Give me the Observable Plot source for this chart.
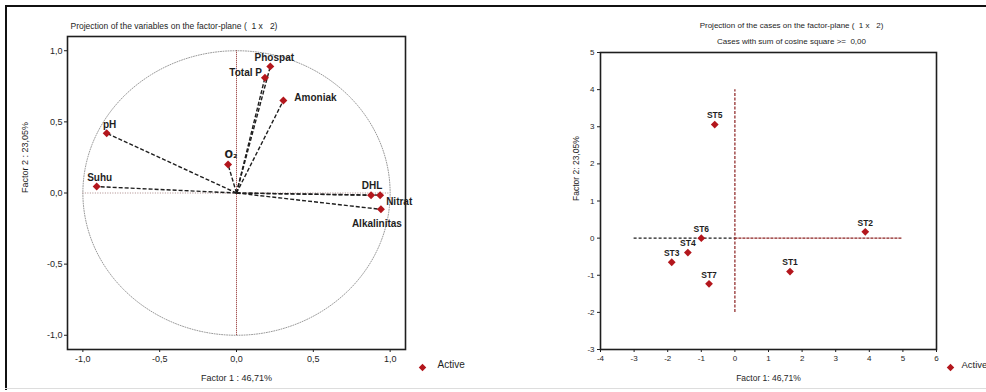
<!DOCTYPE html>
<html><head><meta charset="utf-8">
<script src="https://cdn.jsdelivr.net/npm/d3@7"></script>
<script src="https://cdn.jsdelivr.net/npm/@observablehq/plot@0.6"></script>
<style>
body{margin:0;background:#fff;}
#wrap{position:relative;width:986px;height:392px;overflow:hidden;background:#fff;font-family:"Liberation Sans",Arial,sans-serif;}
.panel{position:absolute;top:0;}
.bt{position:absolute;background:#111;}
</style></head><body>
<div id="wrap">
 <div id="left" class="panel" style="left:0"></div>
 <div id="right" class="panel" style="left:493px"></div>
 <div class="bt" style="left:5px;top:5px;width:981px;height:2px"></div>
 <div class="bt" style="left:5px;top:5px;width:2px;height:385px"></div>
 <div style="position:absolute;left:5px;top:388px;width:981px;height:1px;background:#ddd"></div>
</div>
<script>
// ---- data ----
const variableNames = ["Phospat","Total P","Amoniak","pH","O₂","Suhu","DHL","Nitrat","Alkalinitas"];
const factor1Loadings = [0.22, 0.185, 0.305, -0.845, -0.055, -0.91, 0.876, 0.935, 0.94];
const factor2Loadings = [0.89, 0.81, 0.65, 0.42, 0.20, 0.045, -0.016, -0.015, -0.115];
const caseNames = ["ST1","ST2","ST3","ST4","ST5","ST6","ST7"];
const factor1Scores = [1.64, 3.88, -1.88, -1.40, -0.60, -1.00, -0.77];
const factor2Scores = [-0.90, 0.17, -0.65, -0.39, 3.06, 0.00, -1.23];
const loadingTicks = [-1, -0.5, 0, 0.5, 1];
const scoreXTicks = [-4, -3, -2, -1, 0, 1, 2, 3, 4, 5, 6];
const scoreYTicks = [-3, -2, -1, 0, 1, 2, 3, 4, 5];
const legendLabels = ["Active"];
const leftTitle = "Projection of the variables on the factor-plane (  1 x   2)";
const rightTitle = "Projection of the cases on the factor-plane (  1 x   2)";
const rightSubtitle = "Cases with sum of cosine square >=  0,00";
const leftXLabel = "Factor 1 : 46,71%", leftYLabel = "Factor 2 : 23,05%";
const rightXLabel = "Factor 1: 46,71%", rightYLabel = "Factor 2: 23,05%";

const loadings = variableNames.map((name, i) => ({name, x: factor1Loadings[i], y: factor2Loadings[i]}));
const scores = caseNames.map((name, i) => ({name, x: factor1Scores[i], y: factor2Scores[i]}));

// ---- styles / placement ----
const RED = "#b3161c", INK = "#1e1e1e";
const FONT = "'Liberation Sans', Arial, sans-serif";
const varLabelPlace = {
  "Phospat": {dx: 4, dy: -9, anchor: "middle"},
  "Total P": {dx: -3, dy: -5, anchor: "end"},
  "Amoniak": {dx: 11, dy: -3, anchor: "start"},
  "pH": {dx: 3, dy: -8, anchor: "middle"},
  "O₂": {dx: 3, dy: -10, anchor: "middle", font: "'DejaVu Sans', sans-serif"},
  "Suhu": {dx: 3, dy: -9, anchor: "middle"},
  "DHL": {dx: 1, dy: -9, anchor: "middle"},
  "Nitrat": {dx: 6, dy: 7, anchor: "start"},
  "Alkalinitas": {dx: -4, dy: 14, anchor: "middle"}
};
const commaFmt = d => d.toFixed(1).replace(".", ",");
const unitCircle = d3.range(0, 361, 2).map(a => ({x: Math.cos(a * Math.PI / 180), y: Math.sin(a * Math.PI / 180)}));

const left = Plot.plot({
  width: 493, height: 392,
  marginLeft: 67, marginRight: 88, marginTop: 36, marginBottom: 43,
  x: {domain: [-1.1, 1.1]},
  y: {domain: [-1.1, 1.1]},
  style: {fontFamily: FONT, fontSize: "9px", color: INK, background: "transparent"},
  marks: [
    Plot.line(unitCircle, {x: "x", y: "y", stroke: "#9a9a9a", strokeWidth: 1, strokeDasharray: "1,1.5"}),
    Plot.ruleY([0], {x1: -1, x2: 1, stroke: "#a88", strokeWidth: 1, strokeDasharray: "1,1.5"}),
    Plot.ruleX([0], {y1: -1, y2: 1, stroke: "#8b2020", strokeWidth: 1, strokeDasharray: "1,1"}),
    Plot.link(loadings, {x1: d => 0, y1: d => 0, x2: "x", y2: "y", stroke: INK, strokeWidth: 1.4, strokeDasharray: "4,2"}),
    Plot.dot(loadings, {x: "x", y: "y", symbol: "diamond2", r: 3.6, fill: RED}),
    ...loadings.map(d => {
      const p = varLabelPlace[d.name];
      return Plot.text([d], {x: "x", y: "y", text: "name", dx: p.dx, dy: p.dy, textAnchor: p.anchor,
        fontWeight: "bold", fontSize: 10, fill: INK, fontFamily: p.font || FONT});
    }),
    Plot.frame({stroke: INK, strokeWidth: 1.6}),
    Plot.axisX(loadingTicks, {tickFormat: commaFmt, tickSize: 3, tickPadding: 3, label: null, fontSize: 9}),
    Plot.axisY(loadingTicks, {tickFormat: commaFmt, tickSize: 3, tickPadding: 2, label: null, fontSize: 9}),
    Plot.text([leftTitle], {frameAnchor: "top-left", dx: 3, dy: -14, textAnchor: "start", fontSize: 8.5, fill: INK}),
    Plot.text([leftXLabel], {frameAnchor: "bottom", dy: 31, fontSize: 9, fill: INK}),
    Plot.text([leftYLabel], {frameAnchor: "left", dx: -42, rotate: -90, fontSize: 9, fill: INK}),
    Plot.dot(legendLabels, {frameAnchor: "bottom-right", dx: 17, dy: 18, symbol: "diamond2", r: 3.4, fill: RED}),
    Plot.text(legendLabels, {frameAnchor: "bottom-right", dx: 32, dy: 18, textAnchor: "start", fontSize: 10, fill: INK})
  ]
});
document.getElementById("left").append(left);

const right = Plot.plot({
  width: 493, height: 392,
  marginLeft: 107, marginRight: 50, marginTop: 52, marginBottom: 43,
  x: {domain: [-4, 6]},
  y: {domain: [-3, 5]},
  style: {fontFamily: FONT, fontSize: "8px", color: INK, background: "transparent"},
  marks: [
    Plot.ruleX([0], {y1: -2, y2: 4, stroke: "#8b2020", strokeWidth: 1.2, strokeDasharray: "3,1.5"}),
    Plot.ruleY([0], {x1: -3, x2: 0, stroke: INK, strokeWidth: 1.2, strokeDasharray: "3,2"}),
    Plot.ruleY([0], {x1: 0, x2: 5, stroke: "#8b2020", strokeWidth: 1.2, strokeDasharray: "3,1"}),
    Plot.dot(scores, {x: "x", y: "y", symbol: "diamond2", r: 3.5, fill: RED}),
    Plot.text(scores, {x: "x", y: "y", text: "name", dy: -9, fontWeight: "bold", fontSize: 8.5, fill: INK}),
    Plot.frame({stroke: INK, strokeWidth: 1.6}),
    Plot.axisX(scoreXTicks, {tickFormat: d => String(d), tickSize: 3, tickPadding: 3, label: null, fontSize: 8}),
    Plot.axisY(scoreYTicks, {tickFormat: d => String(d), tickSize: 3, tickPadding: 3, label: null, fontSize: 8}),
    Plot.text([rightTitle], {frameAnchor: "top", dx: 23, dy: -30, fontSize: 8, fill: INK}),
    Plot.text([rightSubtitle], {frameAnchor: "top", dx: 23, dy: -14, fontSize: 8, fill: INK}),
    Plot.text([rightXLabel], {frameAnchor: "bottom", dy: 31, fontSize: 8.5, fill: INK}),
    Plot.text([rightYLabel], {frameAnchor: "left", dx: -24, rotate: -90, fontSize: 8.5, fill: INK}),
    Plot.dot(legendLabels, {frameAnchor: "bottom-right", dx: 14, dy: 18, symbol: "diamond2", r: 3.4, fill: RED}),
    Plot.text(legendLabels, {frameAnchor: "bottom-right", dx: 25, dy: 18, textAnchor: "start", fontSize: 9.5, fill: INK})
  ]
});
document.getElementById("right").append(right);
</script>
</body></html>
